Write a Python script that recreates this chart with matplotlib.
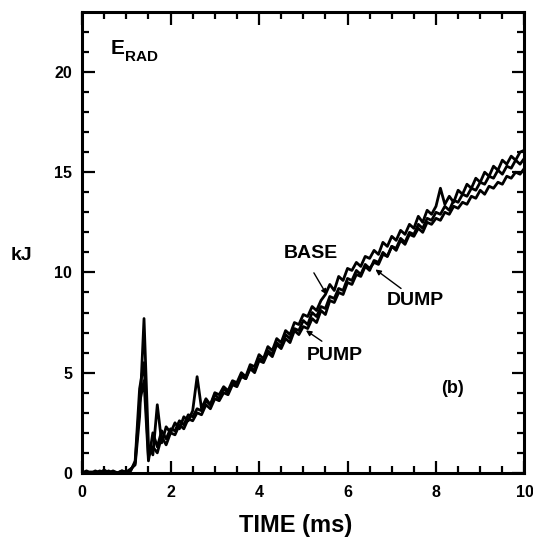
import numpy as np
import matplotlib
matplotlib.use("Agg")
import matplotlib.pyplot as plt

plt.rcParams['font.family'] = ['Liberation Sans', 'DejaVu Sans']
plt.rcParams['font.weight'] = 'bold'

# time grid, 0.1 ms steps
t = np.arange(101) / 10.0

base = [0.0, 0.05, 0.0, 0.1, 0.0, 0.15, 0.0, 0.05, 0.0, 0.1,
        0.05, 0.2, 0.4, 2.8, 7.7, 1.4, 0.9, 3.4, 1.5, 2.3,
        2.0, 2.5, 2.2, 2.8, 2.6, 3.1, 4.8, 3.2, 3.7, 3.4,
        4.0, 3.9, 4.3, 4.1, 4.6, 4.5, 5.0, 4.8, 5.4, 5.3,
        5.9, 5.7, 6.3, 6.1, 6.7, 6.5, 7.1, 6.9, 7.5, 7.4,
        7.9, 7.8, 8.3, 8.1, 8.6, 8.9, 9.4, 9.1, 9.8, 9.6,
        10.2, 10.1, 10.5, 10.3, 10.8, 10.7, 11.1, 10.9, 11.5, 11.3,
        11.8, 11.6, 12.1, 11.9, 12.4, 12.2, 12.8, 12.5, 13.1, 12.9,
        13.3, 14.2, 13.4, 13.8, 13.5, 14.1, 13.9, 14.4, 14.2, 14.7,
        14.5, 15.0, 14.8, 15.3, 15.1, 15.6, 15.4, 15.8, 15.6, 16.0,
        16.1]

pump = [0.0, 0.0, 0.05, 0.0, 0.1, 0.0, 0.0, 0.1, 0.0, 0.05,
        0.0, 0.1, 0.6, 4.2, 5.5, 0.8, 1.3, 1.0, 1.8, 1.4,
        2.0, 1.9, 2.4, 2.2, 2.7, 2.6, 3.0, 2.9, 3.4, 3.2,
        3.7, 3.6, 4.0, 3.9, 4.4, 4.3, 4.8, 4.7, 5.2, 5.0,
        5.6, 5.5, 6.0, 5.8, 6.4, 6.2, 6.7, 6.5, 7.1, 6.9,
        7.3, 7.2, 7.7, 7.5, 8.1, 7.9, 8.6, 8.5, 9.0, 8.9,
        9.5, 9.4, 9.9, 9.8, 10.3, 10.1, 10.6, 10.5, 11.0, 10.8,
        11.3, 11.1, 11.6, 11.4, 11.9, 11.8, 12.2, 12.0, 12.5, 12.4,
        12.7, 12.6, 13.0, 12.9, 13.3, 13.2, 13.5, 13.4, 13.8, 13.7,
        14.1, 13.9, 14.3, 14.2, 14.5, 14.4, 14.8, 14.7, 15.0, 14.9,
        15.2]

dump = [0.0, 0.1, 0.0, 0.0, 0.05, 0.0, 0.1, 0.0, 0.0, 0.1,
        0.0, 0.15, 0.5, 3.5, 4.6, 0.6, 2.0, 1.3, 2.1, 1.7,
        2.2, 2.1, 2.6, 2.4, 2.9, 2.8, 3.2, 3.1, 3.6, 3.4,
        3.9, 3.7, 4.2, 4.0, 4.5, 4.4, 4.9, 4.7, 5.3, 5.1,
        5.7, 5.6, 6.1, 5.9, 6.5, 6.3, 6.9, 6.7, 7.2, 7.1,
        7.6, 7.4, 8.0, 7.8, 8.3, 8.2, 8.8, 8.7, 9.2, 9.1,
        9.7, 9.6, 10.1, 9.9, 10.4, 10.2, 10.5, 10.4, 10.9, 10.8,
        11.3, 11.2, 11.7, 11.5, 12.0, 11.9, 12.4, 12.2, 12.7, 12.6,
        13.0, 12.9, 13.3, 13.1, 13.6, 13.5, 13.9, 13.8, 14.2, 14.1,
        14.5, 14.4, 14.8, 14.7, 15.1, 14.9, 15.3, 15.2, 15.6, 15.4,
        15.7]

fig = plt.figure(figsize=(5.33, 5.38), dpi=100)
ax = fig.add_axes([0.154, 0.121, 0.830, 0.857])

for y in (base, pump, dump):
    ax.plot(t, y, color='black', lw=2.0)

ax.set_xlim(0, 10)
ax.set_ylim(0, 23)
ax.set_xticks([0, 2, 4, 6, 8, 10])
ax.set_xticks(np.arange(0, 10.01, 0.5), minor=True)
ax.set_yticks([0, 5, 10, 15, 20])
ax.set_yticks(np.arange(0, 23, 1), minor=True)

for s in ax.spines.values():
    s.set_linewidth(2.2)
ax.tick_params(which='both', direction='in', top=True, right=True, width=1.6)
ax.tick_params(which='major', length=9, labelsize=11.5, pad=7)
ax.tick_params(which='minor', length=5)
ax.tick_params(axis='x', pad=9)
for lab in ax.get_xticklabels() + ax.get_yticklabels():
    lab.set_fontweight('bold')

fig.text(0.555, 0.024, 'TIME (ms)', ha='center', va='center', fontsize=17, fontweight='bold')
fig.text(0.04, 0.526, 'kJ', ha='center', va='center', fontsize=14, fontweight='bold')

ax.text(0.065, 0.92, 'E', transform=ax.transAxes, ha='left', va='center', fontsize=15, fontweight='bold')
ax.text(0.098, 0.902, 'RAD', transform=ax.transAxes, ha='left', va='center', fontsize=11, fontweight='bold')
ax.text(0.838, 0.182, '(b)', transform=ax.transAxes, ha='center', va='center', fontsize=13, fontweight='bold')

arrow = dict(arrowstyle='-|>', color='black', lw=1.0, mutation_scale=8, shrinkA=0, shrinkB=0)
ax.annotate('', xy=(5.53, 8.89), xytext=(5.24, 9.98), arrowprops=arrow)
ax.annotate('', xy=(6.63, 10.15), xytext=(7.21, 9.2), arrowprops=arrow)
ax.annotate('', xy=(5.06, 7.11), xytext=(5.42, 6.57), arrowprops=arrow)
ax.text(5.17, 10.95, 'BASE', ha='center', va='center', fontsize=14, fontweight='bold')
ax.text(7.53, 8.6, 'DUMP', ha='center', va='center', fontsize=14, fontweight='bold')
ax.text(5.71, 5.87, 'PUMP', ha='center', va='center', fontsize=14, fontweight='bold')

fig.savefig('out.png', dpi=100)
